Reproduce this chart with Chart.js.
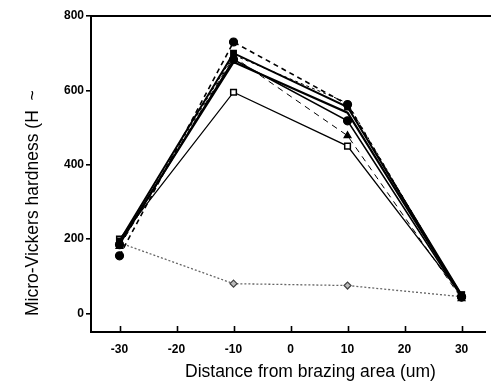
<!DOCTYPE html>
<html>
<head>
<meta charset="utf-8">
<script src="https://cdn.jsdelivr.net/npm/chart.js@4/dist/chart.umd.min.js"></script>
<style>
  html, body { margin: 0; padding: 0; background: #fff; }
</style>
</head>
<body>
<canvas id="c" width="491" height="386"></canvas>
<script>
// distances (um)
const distances = [-30, -10, 10, 30];
const xTicks = [-30, -20, -10, 0, 10, 20, 30];
const yTicks = [0, 200, 400, 600, 800];

// hardness series
const circleDashed = [155, 730, 562, 45];
const squareSolid = [195, 700, 555, 50];
const circleSolid = [185, 683, 518, 44];
const openSquare = [200, 595, 450, 50];
const triangleDashed = [180, 690, 478, 40];
const plainSolid = [190, 676, 540, 48];
const plainDashed = [186, 695, 566, 46];
const diamondDotted = [190, 80, 75, 45];

function pts(arr) {
    return distances.map((d, i) => ({ x: d, y: arr[i] }));
}

function series(arr, style) {
    return Object.assign({
        data: pts(arr),
        borderColor: '#000',
        backgroundColor: '#000',
        pointBorderColor: '#000',
        pointBackgroundColor: '#000',
        borderWidth: 1.6,
        pointRadius: 4,
        pointBorderWidth: 1.2,
        tension: 0
    }, style);
}

const datasets = [
    series(plainDashed, { borderDash: [3, 3], borderWidth: 1, pointRadius: 0 }),
    series(circleDashed, { borderDash: [5, 4], pointStyle: 'circle', pointRadius: 4 }),
    series(plainSolid, { borderWidth: 2.2, pointRadius: 0 }),
    series(squareSolid, { pointStyle: 'rect', pointRadius: 4, borderWidth: 2 }),
    series(circleSolid, { pointStyle: 'circle', pointRadius: 4, borderWidth: 1.6 }),
    series(triangleDashed, { borderDash: [6, 5], borderWidth: 1, pointStyle: 'triangle', pointRadius: 4 }),
    series(openSquare, { pointStyle: 'rect', pointRadius: 4, pointBackgroundColor: '#fff', borderWidth: 1.3, pointBorderWidth: 1.5 }),
    series(diamondDotted, { borderColor: '#666', borderDash: [2, 2], borderWidth: 1.3, pointStyle: 'rectRot', pointRadius: 3.5, pointBackgroundColor: '#bbb', pointBorderColor: '#444' })
];

// inside ticks on x, top frame line and axis titles
const framePlugin = {
    id: 'frame',
    afterDraw(chart) {
        const ctx = chart.ctx;
        const area = chart.chartArea;
        const xs = chart.scales.x;
        ctx.save();
        ctx.strokeStyle = '#000';
        ctx.lineWidth = 1.6;
        xTicks.forEach(v => {
            const px = Math.round(xs.getPixelForValue(v)) + 0.5;
            ctx.beginPath();
            ctx.moveTo(px, area.bottom);
            ctx.lineTo(px, area.bottom - 6);
            ctx.stroke();
        });
        ctx.lineWidth = 2;
        ctx.beginPath();
        ctx.moveTo(area.left, area.top);
        ctx.lineTo(chart.width, area.top);
        ctx.stroke();

        ctx.fillStyle = '#000';
        ctx.font = '17.5px "Liberation Sans", Arial, sans-serif';
        ctx.textAlign = 'left';
        ctx.textBaseline = 'middle';
        ctx.fillText('Distance from brazing area (um)', 185, 372);
        ctx.translate(33, 316);
        ctx.rotate(-Math.PI / 2);
        ctx.fillText('Micro-Vickers hardness (H  ~', 0, 0);
        ctx.restore();
    }
};

new Chart(document.getElementById('c'), {
    type: 'line',
    data: { datasets },
    options: {
        responsive: false,
        animation: false,
        devicePixelRatio: 1,
        layout: { padding: { top: 16, left: 0, right: 0, bottom: 0 } },
        plugins: { legend: { display: false }, tooltip: { enabled: false } },
        scales: {
            x: {
                type: 'linear',
                min: -35,
                max: 34.2,
                afterBuildTicks: s => { s.ticks = xTicks.map(v => ({ value: v })); },
                afterFit: s => { s.height = 54; },
                grid: { display: false, drawTicks: false },
                border: { display: true, color: '#000', width: 2 },
                ticks: {
                    padding: 10,
                    color: '#000',
                    font: { family: '"Liberation Sans", Arial, sans-serif', size: 12, weight: 'bold' }
                }
            },
            y: {
                min: -50,
                max: 800,
                afterBuildTicks: s => { s.ticks = yTicks.map(v => ({ value: v })); },
                afterFit: s => { s.width = 91; },
                grid: { drawOnChartArea: false, drawTicks: true, tickLength: 5, color: '#000', lineWidth: 1.6 },
                border: { display: true, color: '#000', width: 2 },
                ticks: {
                    padding: 2,
                    color: '#000',
                    font: { family: '"Liberation Sans", Arial, sans-serif', size: 12, weight: 'bold' }
                }
            }
        }
    },
    plugins: [framePlugin]
});
</script>
</body>
</html>
